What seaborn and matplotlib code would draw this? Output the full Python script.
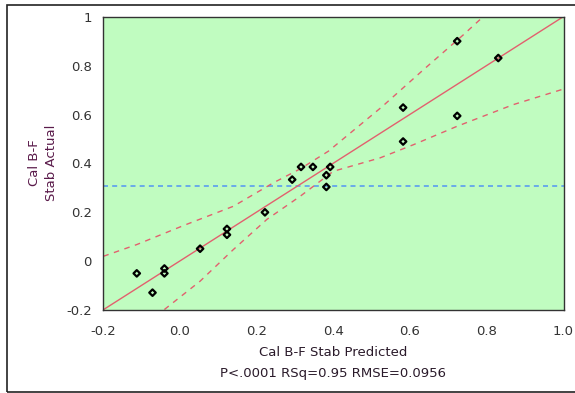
import numpy as np
import pandas as pd
import seaborn as sns
import matplotlib
matplotlib.use('Agg')
import matplotlib.pyplot as plt
from matplotlib.patches import Rectangle

# values
predicted = [-0.112, -0.071, -0.040, -0.040, 0.053, 0.123, 0.123, 0.222, 0.293, 0.316,
             0.347, 0.392, 0.382, 0.382, 0.723, 0.830, 0.582, 0.723, 0.582]
actual = [-0.050, -0.129, -0.030, -0.050, 0.051, 0.132, 0.108, 0.200, 0.334, 0.386,
          0.386, 0.386, 0.352, 0.304, 0.901, 0.832, 0.629, 0.595, 0.490]

# confidence curves
upper_x = [-0.199, -0.112, 0.010, 0.140, 0.244, 0.314, 0.387, 0.526, 0.635, 0.739, 0.780, 0.79]
upper_y = [0.020, 0.068, 0.146, 0.225, 0.321, 0.378, 0.450, 0.631, 0.784, 0.927, 0.986, 1.0]
lower_x = [-0.040, 0.053, 0.140, 0.227, 0.314, 0.400, 0.522, 0.609, 0.722, 0.869, 1.0]
lower_y = [-0.198, -0.082, 0.048, 0.171, 0.266, 0.368, 0.423, 0.477, 0.552, 0.641, 0.705]

x_ticks = [-0.2, 0.0, 0.2, 0.4, 0.6, 0.8, 1.0]
x_labels = ['-0.2', '0.0', '0.2', '0.4', '0.6', '0.8', '1.0']
y_ticks = [-0.2, 0, 0.2, 0.4, 0.6, 0.8, 1]
y_labels = ['-0.2', '0', '0.2', '0.4', '0.6', '0.8', '1']

df = pd.DataFrame({'pred': predicted, 'actual': actual})
red = '#e2606e'
blue = '#5a9cf0'

sns.set_style('white')
plt.rcParams['font.family'] = ['DejaVu Sans']

fig = plt.figure(figsize=(5.75, 3.93), dpi=100)
ax = fig.add_axes([103 / 575, 1 - 310 / 393, (563.5 - 103) / 575, (310 - 17) / 393])
ax.set_facecolor('#c0fcc0')
ax.set_xlim(-0.2, 1.0)
ax.set_ylim(-0.2, 1.0)

ax.axhline(np.mean(actual), color=blue, lw=1.2, ls=(0, (3, 2.5)), zorder=2)
sns.regplot(data=df, x='pred', y='actual', scatter=False, ci=None, truncate=False,
            line_kws={'color': red, 'lw': 1.0}, ax=ax)
sns.lineplot(x=upper_x, y=upper_y, color=red, lw=1.0, ls=(0, (4, 4)), ax=ax, sort=False)
sns.lineplot(x=lower_x, y=lower_y, color=red, lw=1.0, ls=(0, (4, 4)), ax=ax, sort=False)
sns.scatterplot(data=df, x='pred', y='actual', marker='D', s=11, facecolor='none',
                edgecolor='black', linewidth=1.6, ax=ax, zorder=5)

ax.set_xlim(-0.2, 1.0)
ax.set_ylim(-0.2, 1.0)
ax.set_xticks(x_ticks)
ax.set_xticklabels(x_labels)
ax.set_yticks(y_ticks)
ax.set_yticklabels(y_labels)
ax.tick_params(axis='both', which='both', direction='out', length=5, width=1,
               colors='#333333', labelsize=9.5, pad=3)
ax.tick_params(axis='x', pad=6)
for s in ax.spines.values():
    s.set_color('#333333')
    s.set_linewidth(1.0)
ax.set_xlabel('')
ax.set_ylabel('')

fig.text(333 / 575, 1 - 352 / 393, 'Cal B-F Stab Predicted', ha='center', va='center',
         fontsize=9.5, color='#2a1a2a')
fig.text(333 / 575, 1 - 373 / 393, 'P<.0001 RSq=0.95 RMSE=0.0956', ha='center', va='center',
         fontsize=9.5, color='#2a1a2a')
fig.text(43 / 575, 1 - 163 / 393, 'Cal B-F\nStab Actual', ha='center', va='center',
         rotation=90, fontsize=9.5, color='#5a1a4a', linespacing=1.4)

# outer report frame
fig.patches.append(Rectangle((7 / 575, 1.5 / 393), 0.99, (391.5 - 4.5) / 393,
                             transform=fig.transFigure, fill=False, edgecolor='#222222',
                             lw=1.2, clip_on=False))

fig.savefig('out.png', dpi=100)
